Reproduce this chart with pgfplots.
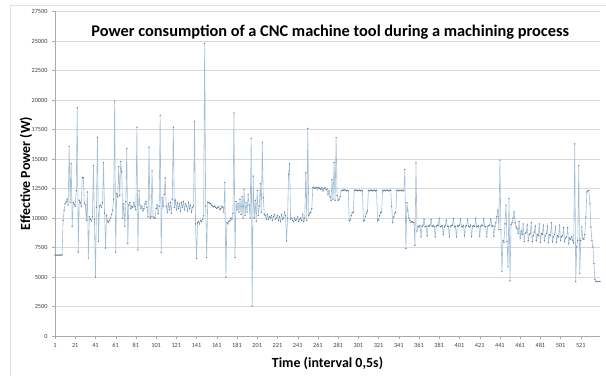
\documentclass[border=0pt]{standalone}
\usepackage{fontspec}
\setmainfont{Carlito}
\usepackage{pgfplots}
\usepackage{pgfplotstable}
\pgfplotsset{compat=1.18}
\definecolor{linecol}{RGB}{164,190,214}
\definecolor{markcol}{RGB}{105,128,152}
\definecolor{gridcol}{RGB}{217,217,217}
\definecolor{axcol}{RGB}{170,170,170}
\definecolor{tickcol}{RGB}{64,64,64}
\pgfplotstableread[row sep=\\]{
P\\
6850\\ 6850\\ 6850\\ 6850\\ 6860\\ 6850\\ 6860\\ 6870\\ 9800\\ 10650\\
11200\\ 11350\\ 11600\\ 11100\\ 16050\\ 11300\\ 14600\\ 9300\\ 11300\\ 11150\\
11000\\ 12300\\ 19350\\ 7100\\ 11500\\ 11300\\ 11000\\ 13450\\ 13400\\ 11250\\
11100\\ 9800\\ 12200\\ 6600\\ 10100\\ 9900\\ 9750\\ 10100\\ 14450\\ 9900\\
5000\\ 10900\\ 16850\\ 8000\\ 11000\\ 11100\\ 10900\\ 11300\\ 14700\\ 10400\\
7450\\ 10200\\ 9700\\ 9650\\ 9800\\ 10000\\ 10300\\ 10650\\ 11600\\ 19900\\
7100\\ 12050\\ 11800\\ 14350\\ 11900\\ 14800\\ 13930\\ 10000\\ 11200\\ 9300\\
11400\\ 15900\\ 7850\\ 11100\\ 11300\\ 10800\\ 11000\\ 10900\\ 11300\\ 11000\\
10700\\ 17700\\ 7300\\ 12300\\ 11100\\ 10800\\ 11000\\ 10600\\ 10800\\ 11200\\
11400\\ 10900\\ 10100\\ 16000\\ 10000\\ 10100\\ 14000\\ 10100\\ 10000\\ 10000\\
10800\\ 11100\\ 10400\\ 11000\\ 18700\\ 7100\\ 11700\\ 11000\\ 12000\\ 13400\\
11000\\ 10500\\ 11200\\ 10700\\ 11300\\ 10400\\ 11600\\ 17700\\ 10900\\ 11500\\
10700\\ 11300\\ 10800\\ 11200\\ 10600\\ 11300\\ 10900\\ 11400\\ 10700\\ 11200\\
11000\\ 10600\\ 11300\\ 10800\\ 11100\\ 10500\\ 10900\\ 11000\\ 18200\\ 9500\\
6570\\ 9600\\ 9700\\ 9500\\ 9800\\ 9700\\ 9900\\ 10200\\ 24800\\ 11000\\
6650\\ 11350\\ 11300\\ 11250\\ 11200\\ 11100\\ 11000\\ 10950\\ 11000\\ 10900\\
10800\\ 10900\\ 10950\\ 10700\\ 10800\\ 11000\\ 10900\\ 10500\\ 13000\\ 5000\\
9600\\ 9500\\ 9700\\ 9800\\ 10000\\ 9900\\ 10400\\ 18900\\ 6650\\ 11400\\
10700\\ 11200\\ 10500\\ 11600\\ 10300\\ 11800\\ 10000\\ 12400\\ 10200\\ 11300\\
10500\\ 12000\\ 11100\\ 10000\\ 16750\\ 2550\\ 13550\\ 10000\\ 11500\\ 9700\\
12350\\ 10200\\ 11000\\ 12900\\ 10500\\ 16420\\ 11700\\ 10300\\ 10200\\ 9900\\
10300\\ 9900\\ 10100\\ 10000\\ 10200\\ 9800\\ 10100\\ 10300\\ 9900\\ 10000\\
10200\\ 9800\\ 10100\\ 9700\\ 10300\\ 9900\\ 10000\\ 10500\\ 10200\\ 8050\\
10000\\ 13700\\ 14600\\ 9900\\ 10000\\ 9800\\ 9700\\ 10000\\ 9800\\ 9900\\
10100\\ 9700\\ 9900\\ 10000\\ 9800\\ 10300\\ 9700\\ 10000\\ 13850\\ 9800\\
17600\\ 10200\\ 10400\\ 10500\\ 10800\\ 12560\\ 12600\\ 12500\\ 12550\\ 12600\\
12450\\ 12600\\ 12500\\ 12400\\ 12550\\ 12300\\ 12500\\ 12550\\ 12400\\ 12450\\
12000\\ 12300\\ 11800\\ 11500\\ 13250\\ 11600\\ 14700\\ 11500\\ 16800\\ 11900\\
11500\\ 11600\\ 11800\\ 12300\\ 12350\\ 12350\\ 12400\\ 12350\\ 12300\\ 12350\\
12300\\ 9750\\ 9850\\ 10200\\ 10450\\ 10500\\ 12350\\ 12350\\ 12350\\ 12300\\
12350\\ 12350\\ 12300\\ 12350\\ 12300\\ 9750\\ 9800\\ 10150\\ 10400\\ 10550\\
12350\\ 12300\\ 12350\\ 12350\\ 12300\\ 12350\\ 12350\\ 12300\\ 12350\\ 9750\\
9850\\ 10200\\ 10450\\ 10500\\ 12350\\ 12300\\ 12350\\ 12300\\ 12350\\ 12350\\
12300\\ 12350\\ 12350\\ 11000\\ 9650\\ 10100\\ 10400\\ 10500\\ 12350\\ 12350\\
12300\\ 12350\\ 12350\\ 12300\\ 12350\\ 12300\\ 14100\\ 7410\\ 11300\\ 10600\\
10000\\ 9800\\ 9650\\ 9700\\ 9650\\ 9600\\ 7690\\ 14680\\ 8900\\ 9300\\
9250\\ 9350\\ 8400\\ 9300\\ 9400\\ 9900\\ 9250\\ 9300\\ 8500\\ 9350\\
9300\\ 9400\\ 9850\\ 9300\\ 9350\\ 9250\\ 8400\\ 9300\\ 9400\\ 9350\\
9950\\ 9250\\ 9300\\ 9350\\ 8600\\ 9250\\ 9350\\ 9800\\ 9300\\ 9300\\
8450\\ 9300\\ 9350\\ 9400\\ 9950\\ 9250\\ 9300\\ 8400\\ 9350\\ 9300\\
9400\\ 9900\\ 9300\\ 9250\\ 9350\\ 8500\\ 9300\\ 9350\\ 9850\\ 9300\\
9250\\ 9400\\ 8400\\ 9300\\ 9350\\ 9300\\ 9950\\ 9250\\ 9300\\ 9350\\
8450\\ 9300\\ 9400\\ 9350\\ 9900\\ 9300\\ 9250\\ 8400\\ 9300\\ 9350\\
9400\\ 9900\\ 9300\\ 9350\\ 8450\\ 9300\\ 9600\\ 10100\\ 10650\\ 9000\\
14900\\ 9000\\ 5450\\ 8100\\ 7950\\ 9500\\ 11100\\ 8000\\ 5860\\ 11640\\
4670\\ 9450\\ 9600\\ 10000\\ 10500\\ 9600\\ 9240\\ 9100\\ 8700\\ 9700\\
8300\\ 8900\\ 8600\\ 9500\\ 8000\\ 8700\\ 8800\\ 9400\\ 8100\\ 8600\\
8700\\ 9600\\ 8000\\ 8500\\ 8800\\ 9300\\ 8100\\ 8600\\ 8500\\ 9500\\
7950\\ 8700\\ 8600\\ 9400\\ 8100\\ 8500\\ 8700\\ 9300\\ 7900\\ 8600\\
8500\\ 9600\\ 8000\\ 8400\\ 8600\\ 9300\\ 7950\\ 8500\\ 8400\\ 9400\\
8100\\ 8400\\ 8500\\ 9200\\ 8000\\ 8300\\ 8400\\ 9200\\ 7850\\ 8300\\
8200\\ 8400\\ 8100\\ 7900\\ 16280\\ 4600\\ 7550\\ 8100\\ 14450\\ 5300\\
8100\\ 9240\\ 8250\\ 8200\\ 8600\\ 10080\\ 12200\\ 12300\\ 12340\\ 11200\\
9240\\ 8100\\ 7550\\ 6140\\ 4800\\ 4600\\ 4600\\ 4620\\ 4620\\ 4620\\
}\powerdata
\begin{document}
\begin{tikzpicture}
\begin{axis}[
  scale only axis,
  width=545bp, height=324.5bp,
  xmin=1, xmax=540,
  ymin=0, ymax=27500,
  xtick={1,21,...,521},
  ytick={0,2500,...,27500},
  scaled y ticks=false,
  scaled x ticks=false,
  axis x line*=bottom,
  axis y line*=left,
  x axis line style={-, color=axcol},
  y axis line style={-, color=axcol},
  tick style={color=axcol},
  tick align=outside,
  major tick length=3bp,
  ymajorgrids,
  grid style={color=gridcol, line width=0.6bp},
  /pgf/number format/assume math mode=true,
  /pgf/number format/1000 sep={},
  tick label style={font=\fontsize{6.3}{7}\selectfont, text=tickcol},
  yticklabel style={xshift=-1bp},
  xticklabel style={yshift=-1bp},
  clip=false,
]
\addplot[color=linecol, line width=0.6bp, mark=*, mark size=0.3bp,
  mark options={color=markcol}]
  table[x expr=\coordindex+1, y=P] {\powerdata};
\node[anchor=base, font=\fontsize{16.4}{19}\selectfont\bfseries]
  at (rel axis cs:0.505,0.923) {Power consumption of a CNC machine tool during a machining process};
\end{axis}
\node[anchor=base, rotate=90, font=\fontsize{14}{17}\selectfont\bfseries]
  at (-25bp,162.5bp) {Effective Power (W)};
\node[anchor=base, font=\fontsize{14}{17}\selectfont\bfseries]
  at (272.5bp,-31bp) {Time (interval 0,5s)};
\draw[gray!25, line width=0.6bp] (-45bp,-40bp) -- (-45bp,331bp) -- (551bp,331bp);
\pgfresetboundingbox
\path (-55bp,-40bp) rectangle (551bp,336bp);
\end{tikzpicture}
\end{document}
